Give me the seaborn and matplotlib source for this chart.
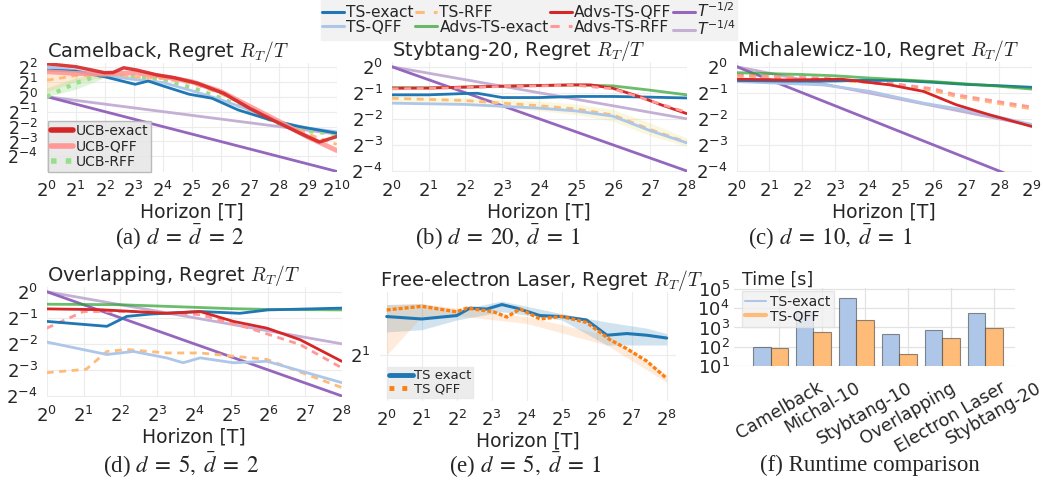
import numpy as np
import pandas as pd
import matplotlib
matplotlib.use('Agg')
import matplotlib.pyplot as plt
import seaborn as sns
from matplotlib.lines import Line2D
from matplotlib.ticker import FixedLocator, LogFormatterMathtext, NullLocator

# ---------------- data ----------------
# (a) Camelback
a_T = [1, 2, 4, 8, 16, 32, 64, 128, 256, 512, 1024]
a_T_ucb_exact = [1, 2, 4, 4.9, 6.3, 8.6, 14, 21, 37, 69, 128, 239, 461, 676, 1024]
a_ucb_exact = [4.6, 4.0, 3.03, 3.07, 3.81, 3.43, 2.73, 2.41, 1.85, 1.16, 0.58, 0.314, 0.171, 0.122, 0.157]
a_ucb_qff = [3.18, 2.93, 2.83, 3.03, 2.55, 2.0, 1.27, 0.637, 0.319, 0.154, 0.0825]
a_T_ts_exact = [1, 2, 4, 8.3, 11.3, 17, 30, 52, 97, 208, 416, 1024]
a_ts_exact = [3.43, 3.25, 2.51, 1.77, 2.06, 1.59, 1.12, 0.927, 0.54, 0.341, 0.25, 0.184]
a_ts_qff = [4.0, 3.36, 2.64, 2.22, 1.93, 1.32, 0.871, 0.536, 0.308, 0.233, 0.196]
a_ts_rff = [2.14, 2.64, 2.73, 2.46, 2.30, 1.87, 1.15, 0.616, 0.308, 0.177, 0.109]
a_T_ucb_rff = [1, 2, 2.83, 4, 8, 16, 32, 64, 128, 256, 512, 1024]
a_ucb_rff = [1.0, 1.87, 2.33, 2.71, 2.55, 2.14, 1.52, 0.933, 0.536, 0.287, 0.203, 0.177]
a_T_band = [1, 2, 4, 8]
a_rff_lo = [1.23, 2.0, 2.46, 2.3]
a_rff_hi = [3.73, 3.48, 3.03, 2.64]
a_ucbrff_lo = [1.0, 1.41, 2.4, 2.4]
a_ucbrff_hi = [1.5, 2.4, 3.0, 2.7]
a_T_ref = [1, 1024]
a_ref_half = [1.0, 0.03125]
a_ref_quarter = [1.0, 0.177]

# (b) Stybtang-20
b_T = [1, 2, 4, 8, 16, 32, 64, 128, 256]
b_T_adv_qff = [1, 2, 4, 8, 16, 32, 42, 64, 104, 158, 256]
b_adv_qff = [0.563, 0.566, 0.582, 0.595, 0.607, 0.616, 0.616, 0.563, 0.454, 0.363, 0.287]
b_adv_exact = [0.574, 0.57, 0.58, 0.595, 0.607, 0.616, 0.60, 0.536, 0.473]
b_adv_rff = [0.555, 0.56, 0.574, 0.59, 0.6, 0.61, 0.555, 0.406, 0.297]
b_T_ts_exact = [1, 2, 4, 5, 8, 16, 32, 64, 128, 256]
b_ts_exact = [0.473, 0.473, 0.49, 0.493, 0.44, 0.44, 0.453, 0.453, 0.445, 0.435]
b_T_ts = [1, 4, 16, 32, 64, 128, 256]
b_ts_qff = [0.379, 0.366, 0.332, 0.308, 0.268, 0.183, 0.132]
b_ts_rff = [0.432, 0.406, 0.354, 0.325, 0.277, 0.189, 0.134]
b_rff_lo = [0.40, 0.37, 0.31, 0.28, 0.235, 0.16, 0.12]
b_rff_hi = [0.46, 0.44, 0.40, 0.37, 0.32, 0.225, 0.15]
b_T_ref = [1, 256]
b_ref_half = [1.0, 0.0625]
b_ref_quarter = [1.0, 0.25]

# (c) Michalewicz-10
c_T = [1, 4, 8, 16, 32, 64, 128, 256, 512]
c_adv_exact = [0.853, 0.812, 0.785, 0.742, 0.707, 0.673, 0.633, 0.595, 0.551]
c_ts_exact = [0.693, 0.678, 0.683, 0.697, 0.693, 0.66, 0.624, 0.603, 0.578]
c_T_adv_qff = [1, 3, 9.2, 25.6, 52, 104, 208, 512]
c_adv_qff = [0.717, 0.702, 0.717, 0.616, 0.518, 0.363, 0.279, 0.204]
c_T_rff = [1, 6.2, 25.6, 64, 104, 512]
c_adv_rff = [0.8, 0.737, 0.646, 0.555, 0.473, 0.342]
c_ts_rff = [0.779, 0.717, 0.624, 0.53, 0.451, 0.325]
c_T_ts_qff = [1, 6.2, 16.8, 52, 147, 512]
c_ts_qff = [0.673, 0.616, 0.518, 0.379, 0.306, 0.215]
c_T_ref = [1, 512]
c_ref_half = [1.0, 0.0442]
c_ref_quarter = [1.0, 0.210]

# (d) Overlapping
d_T_adv_exact = [1, 4, 8, 16, 32, 64, 256]
d_adv_exact = [0.717, 0.707, 0.683, 0.66, 0.637, 0.624, 0.616]
d_T_ts_exact = [1, 3.1, 4.5, 7.0, 17.9, 37.8, 64, 256]
d_ts_exact = [0.454, 0.398, 0.518, 0.551, 0.59, 0.563, 0.616, 0.646]
d_T_adv_qff = [1, 2.7, 9.5, 17.9, 33.4, 62.7, 117, 256]
d_adv_qff = [0.633, 0.62, 0.563, 0.59, 0.454, 0.379, 0.279, 0.157]
d_T_adv_rff = [1, 2, 5.1, 17.9, 45, 117, 256]
d_adv_rff = [0.379, 0.59, 0.59, 0.543, 0.379, 0.245, 0.132]
d_T_ts_qff = [1, 3.1, 5.1, 9.5, 13, 17.9, 33.4, 62.7, 256]
d_ts_qff = [0.262, 0.188, 0.204, 0.172, 0.151, 0.172, 0.151, 0.157, 0.089]
d_T_ts_rff = [1, 2.1, 3.1, 4.5, 9.5, 17.9, 62.7, 256]
d_ts_rff = [0.116, 0.127, 0.204, 0.215, 0.196, 0.196, 0.165, 0.078]
d_T_ref = [1, 256]
d_ref_half = [1.0, 0.0625]
d_ref_quarter = [1.0, 0.25]

# (e) Free-electron Laser
e_T_exact = [1, 2, 4, 5.2, 7.26, 9.78, 13.1, 20.8, 32, 52.3, 78.3, 116, 172, 256]
e_exact = [2.69, 2.64, 2.71, 2.87, 2.85, 2.95, 2.87, 2.71, 2.69, 2.62, 2.33, 2.36, 2.33, 2.28]
e_T_qff = [1, 2, 4, 4.89, 8.28, 10.8, 14.0, 20.8, 32, 52.3, 83.3, 116, 172, 256]
e_qff = [2.83, 2.91, 2.79, 2.87, 2.79, 2.68, 2.85, 2.64, 2.69, 2.57, 2.25, 2.10, 1.91, 1.67]
e_T_band_exact = [1, 2, 4, 9.8, 32, 78, 172, 256]
e_exact_lo = [2.39, 2.43, 2.62, 2.79, 2.62, 2.16, 2.16, 2.16]
e_exact_hi = [2.95, 2.97, 2.83, 3.03, 2.75, 2.58, 2.46, 2.36]
e_T_band_qff = [1, 2, 4, 16, 78, 256]
e_qff_lo = [2.0, 2.69, 2.71, 2.55, 2.16, 1.62]
e_qff_hi = [2.95, 2.97, 2.87, 2.69, 2.33, 1.72]

# (f) Runtime
runtime_datasets = ['Camelback', 'Michal-10', 'Stybtang-10', 'Overlapping', 'Electron Laser', 'Stybtang-20']
runtime_exact = [100, 6300, 35000, 450, 740, 5400]
runtime_qff = [85, 570, 2450, 42, 280, 910]

# tick exponents
ticks_a_x = list(range(0, 11))
ticks_a_y = list(range(-4, 3))
ticks_b_x = list(range(0, 9))
ticks_b_y = list(range(-4, 1))
ticks_c_x = list(range(0, 10))
ticks_e_y = [1]

# ---------------- style ----------------
sns.set_style('whitegrid')
plt.rcParams['font.family'] = ['DejaVu Sans']
plt.rcParams['grid.color'] = '#ececec'
plt.rcParams['grid.linewidth'] = 0.8

C_TS_EXACT = '#1f77b4'
C_TS_QFF = '#aec7e8'
C_TS_RFF = '#ffbb78'
C_ADV_EXACT = '#2ca02c'
C_ADV_QFF = '#d62728'
C_ADV_RFF = '#ff9896'
C_T12 = '#9467bd'
C_T14 = '#c5b0d5'
C_UCB_RFF = '#98df8a'
DASH = (0, (2.5, 2.0))

W, H = 1043, 486
fig = plt.figure(figsize=(W / 100, H / 100), dpi=100)


def rect(l, t, r, b):
    return [l / W, 1 - b / H, (r - l) / W, (b - t) / H]


def setup_log2(ax, xl, yl, xt, yt, fs=13, yfs=None):
    ax.set_xscale('log', base=2)
    ax.set_yscale('log', base=2)
    ax.set_xlim(2.0 ** xl[0], 2.0 ** xl[1])
    ax.set_ylim(2.0 ** yl[0], 2.0 ** yl[1])
    ax.xaxis.set_major_locator(FixedLocator([2.0 ** k for k in xt]))
    ax.yaxis.set_major_locator(FixedLocator([2.0 ** k for k in yt]))
    ax.xaxis.set_minor_locator(NullLocator())
    ax.yaxis.set_minor_locator(NullLocator())
    ax.xaxis.set_major_formatter(LogFormatterMathtext(base=2))
    ax.yaxis.set_major_formatter(LogFormatterMathtext(base=2))
    ax.tick_params(axis='x', labelsize=fs, length=0, pad=6.5)
    ax.tick_params(axis='y', labelsize=yfs or fs, length=0, pad=6.5)
    for s in ax.spines.values():
        s.set_visible(False)
    ax.set_xlabel('Horizon [T]', fontsize=13.5, labelpad=1)
    ax.set_ylabel('')


def line(ax, T, v, color, lw=2.0, ls='-', alpha=1.0, z=2):
    sns.lineplot(x=T, y=v, ax=ax, color=color, lw=lw, ls=ls, alpha=alpha,
                 zorder=z, estimator=None)


def band(ax, T, lo, hi, color, alpha=0.2):
    ax.fill_between(T, lo, hi, color=color, alpha=alpha, lw=0, zorder=1)


def title(ax, txt):
    t = ax.set_title(txt, loc='left', fontsize=14, pad=4)
    t.set_math_fontfamily('cm')


# ---------------- (a) ----------------
ax = fig.add_axes(rect(46.7, 63, 336.7, 171.7))
band(ax, a_T_band, a_rff_lo, a_rff_hi, C_TS_RFF, 0.3)
band(ax, a_T_band, a_ucbrff_lo, a_ucbrff_hi, C_UCB_RFF, 0.3)
line(ax, a_T_ref, a_ref_quarter, C_T14, 2.0)
line(ax, a_T_ref, a_ref_half, C_T12, 2.0)
line(ax, a_T_ucb_rff, a_ucb_rff, C_UCB_RFF, 3.0, ':')
line(ax, a_T, a_ts_rff, C_TS_RFF, 2.0, DASH)
line(ax, a_T, a_ts_qff, C_TS_QFF, 2.0)
line(ax, a_T_ts_exact, a_ts_exact, C_TS_EXACT, 2.0)
line(ax, a_T, a_ucb_qff, C_ADV_RFF, 3.5, alpha=0.9)
line(ax, a_T_ucb_exact, a_ucb_exact, C_ADV_QFF, 2.5, alpha=0.9)
setup_log2(ax, (0, 10), (-5.02, 2.25), ticks_a_x, ticks_a_y, yfs=12.5)
title(ax, 'Camelback, Regret $R_T/T$')
ucb_handles = [Line2D([], [], color=C_ADV_QFF, lw=4),
               Line2D([], [], color=C_ADV_RFF, lw=4),
               Line2D([], [], color=C_UCB_RFF, lw=4, ls=':')]
ax.legend(ucb_handles, ['UCB-exact', 'UCB-QFF', 'UCB-RFF'], loc='lower left',
          bbox_to_anchor=(0.005, 0.0), borderaxespad=0, fontsize=10,
          facecolor='#e6e6e6', edgecolor='#b0b0b0', framealpha=0.85,
          borderpad=0.2, labelspacing=0.1, handlelength=1.6, handletextpad=0.2,
          fancybox=False)

# ---------------- (b) ----------------
ax = fig.add_axes(rect(391.7, 62, 686.7, 171.7))
band(ax, b_T_ts, b_rff_lo, b_rff_hi, '#e8e07a', 0.25)
line(ax, b_T_ref, b_ref_quarter, C_T14, 2.0)
line(ax, b_T_ref, b_ref_half, C_T12, 2.0)
line(ax, b_T_ts, b_ts_rff, C_TS_RFF, 2.0, DASH)
line(ax, b_T_ts, b_ts_qff, C_TS_QFF, 2.0)
line(ax, b_T_ts_exact, b_ts_exact, C_TS_EXACT, 2.0)
line(ax, b_T, b_adv_exact, C_ADV_EXACT, 2.0, alpha=0.7)
line(ax, b_T_adv_qff, b_adv_qff, C_ADV_QFF, 2.0)
line(ax, b_T, b_adv_rff, C_ADV_RFF, 2.0, DASH)
setup_log2(ax, (0, 8), (-4.03, 0.18), ticks_b_x, ticks_b_y)
title(ax, 'Stybtang-20, Regret $R_T/T$')

# ---------------- (c) ----------------
ax = fig.add_axes(rect(736.7, 62, 1031.7, 171.7))
line(ax, c_T_ref, c_ref_quarter, C_T14, 2.0)
line(ax, c_T_ref, c_ref_half, C_T12, 2.0)
line(ax, c_T_ts_qff, c_ts_qff, C_TS_QFF, 2.0)
line(ax, c_T_rff, c_ts_rff, C_TS_RFF, 2.0, DASH)
line(ax, c_T_rff, c_adv_rff, C_ADV_RFF, 2.0, DASH)
line(ax, c_T, c_ts_exact, C_TS_EXACT, 2.0)
line(ax, c_T, c_adv_exact, C_ADV_EXACT, 2.0, alpha=0.7)
line(ax, c_T_adv_qff, c_adv_qff, C_ADV_QFF, 2.0)
setup_log2(ax, (0, 9), (-4.03, 0.18), ticks_c_x, ticks_b_y)
title(ax, 'Michalewicz-10, Regret $R_T/T$')

# ---------------- (d) ----------------
ax = fig.add_axes(rect(46.7, 287, 341.7, 396.7))
line(ax, d_T_ref, d_ref_quarter, C_T14, 2.0)
line(ax, d_T_ref, d_ref_half, C_T12, 2.0)
line(ax, d_T_ts_rff, d_ts_rff, C_TS_RFF, 2.0, DASH)
line(ax, d_T_ts_qff, d_ts_qff, C_TS_QFF, 2.0)
line(ax, d_T_adv_rff, d_adv_rff, C_ADV_RFF, 2.0, DASH)
line(ax, d_T_adv_exact, d_adv_exact, C_ADV_EXACT, 2.0, alpha=0.7)
line(ax, d_T_ts_exact, d_ts_exact, C_TS_EXACT, 2.0)
line(ax, d_T_adv_qff, d_adv_qff, C_ADV_QFF, 2.0)
setup_log2(ax, (0, 8), (-4.03, 0.18), ticks_b_x, ticks_b_y)
title(ax, 'Overlapping, Regret $R_T/T$')

# ---------------- (e) ----------------
ax = fig.add_axes(rect(379.7, 292, 675.5, 401))
band(ax, e_T_band_exact, e_exact_lo, e_exact_hi, '#1f77b4', 0.2)
band(ax, e_T_band_qff, e_qff_lo, e_qff_hi, '#ff7f0e', 0.15)
line(ax, e_T_exact, e_exact, '#1f77b4', 2.2)
line(ax, e_T_qff, e_qff, '#ff7f0e', 2.4, (0, (1.2, 0.6)))
setup_log2(ax, (-0.2, 8.25), (0.49, 1.70), ticks_b_x, ticks_e_y)
title(ax, 'Free-electron Laser, Regret $R_T/T$')
e_handles = [Line2D([], [], color='#1f77b4', lw=3.5),
             Line2D([], [], color='#ff7f0e', lw=3.5, ls=':')]
ax.legend(e_handles, ['TS exact', 'TS QFF'], loc='lower left',
          bbox_to_anchor=(0.025, 0.028), borderaxespad=0, fontsize=9.5,
          facecolor='#e8e8e8', edgecolor='#e8e8e8', framealpha=0.8,
          borderpad=0.15, labelspacing=0.05, handlelength=1.8, handletextpad=0.1,
          fancybox=False)

# ---------------- (f) ----------------
axf = fig.add_axes(rect(734, 288, 1015, 366))
df = pd.DataFrame({
    'dataset': runtime_datasets * 2,
    'method': ['TS-exact'] * len(runtime_datasets) + ['TS-QFF'] * len(runtime_datasets),
    'time': runtime_exact + runtime_qff,
})
sns.barplot(data=df, x='dataset', y='time', hue='method', ax=axf,
            palette=['#aec7e8', '#ffbb78'], width=0.8, errorbar=None,
            saturation=1, edgecolor=(0.2, 0.2, 0.2, 0.55), linewidth=0.8,
            legend=False, zorder=2)
axf.set_yscale('log')
axf.set_ylim(10, 10 ** 5.05)
axf.set_xlim(-0.85, 5.69)
axf.yaxis.set_major_locator(FixedLocator([10, 100, 1e3, 1e4, 1e5]))
axf.yaxis.set_minor_locator(NullLocator())
axf.yaxis.set_major_formatter(LogFormatterMathtext(base=10))
axf.set_xticks(np.arange(len(runtime_datasets)) + 0.2)
axf.set_xticklabels(runtime_datasets, rotation=30, ha='center', va='top')
axf.tick_params(axis='x', labelsize=12.5, length=0, pad=9)
axf.tick_params(axis='y', labelsize=13, length=0, pad=3)
axf.grid(True, axis='both', color='#e2e2e2', lw=0.9)
axf.set_axisbelow(True)
axf.set_xlabel('')
axf.set_ylabel('')
for s in axf.spines.values():
    s.set_visible(False)
f_handles = [Line2D([], [], color='#aec7e8', lw=1.5),
             Line2D([], [], color='#ffbb78', lw=3)]
axf.legend(f_handles, ['TS-exact', 'TS-QFF'], loc='upper left',
           bbox_to_anchor=(0.027, 0.96), borderaxespad=0, fontsize=10,
           facecolor='#f0f0f0', edgecolor='#e0e0e0', framealpha=0.8,
           borderpad=0.25, labelspacing=0.05, handlelength=1.5, handletextpad=0.3,
           fancybox=False)
fig.text(741.7 / W, 1 - 280 / H, 'Time [s]', fontsize=12.5, ha='left', va='center')

# ---------------- top legend ----------------
top_handles = [Line2D([], [], color=C_TS_EXACT, lw=2.2),
               Line2D([], [], color=C_TS_QFF, lw=2.2),
               Line2D([], [], color=C_TS_RFF, lw=2.2, ls=(0, (3, 3))),
               Line2D([], [], color=C_ADV_EXACT, lw=2.2, alpha=0.7),
               Line2D([], [], color=C_ADV_QFF, lw=2.2),
               Line2D([], [], color=C_ADV_RFF, lw=2.2, ls=(0, (3, 3))),
               Line2D([], [], color=C_T12, lw=2.2),
               Line2D([], [], color=C_T14, lw=2.2)]
top_labels = ['TS-exact', 'TS-QFF', 'TS-RFF', 'Advs-TS-exact', 'Advs-TS-QFF',
              'Advs-TS-RFF', '$T^{-1/2}$', '$T^{-1/4}$']
fig.legend(top_handles, top_labels, loc='upper center', bbox_to_anchor=(529 / W, 1.0),
           ncol=4, fontsize=11.2, facecolor='#f2f2f2', edgecolor='#f2f2f2',
           framealpha=1, handlelength=1.4, handletextpad=0.15, columnspacing=0.1,
           labelspacing=-0.04, borderpad=0.1, borderaxespad=0, fancybox=False)

# ---------------- captions ----------------
caps = [(180, 237, '(a) $d\\;=\\;\\bar{d}\\;=\\;2$'),
        (498, 237, '(b) $d\\;=\\;20,\\;\\bar{d}\\;=\\;1$'),
        (830, 237, '(c) $d\\;=\\;10,\\;\\bar{d}\\;=\\;1$'),
        (181, 465, '(d) $d\\;=\\;5,\\;\\bar{d}\\;=\\;2$'),
        (525, 465, '(e) $d\\;=\\;5,\\;\\bar{d}\\;=\\;1$'),
        (870, 465, '(f) Runtime comparison')]
for cx, cy, txt in caps:
    fig.text(cx / W, 1 - cy / H, txt, ha='center', va='center', fontsize=16.5,
             family='Liberation Serif', math_fontfamily='stix')

fig.savefig('out.png', dpi=100)
